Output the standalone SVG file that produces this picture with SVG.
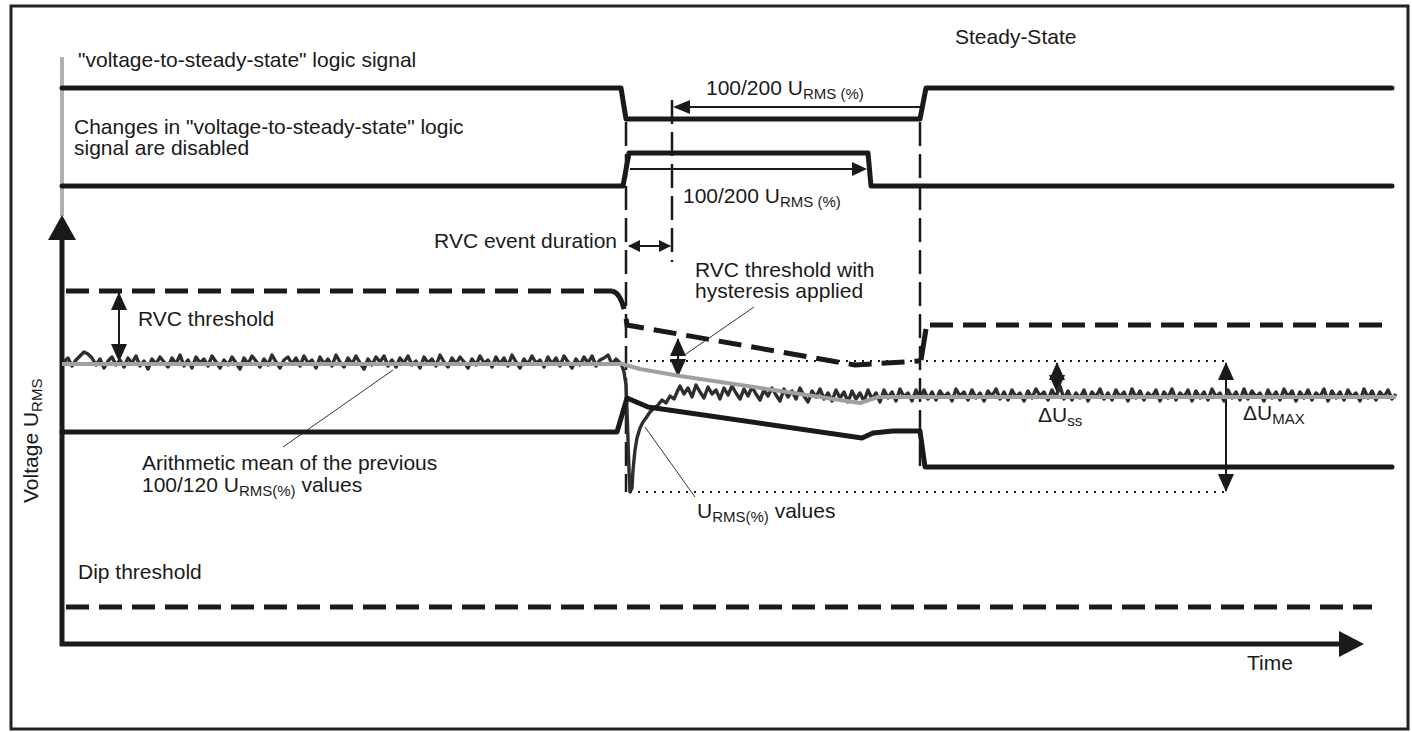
<svg xmlns="http://www.w3.org/2000/svg" width="1412" height="732" viewBox="0 0 1412 732">
<style>
text{font-family:"Liberation Sans",Arial,sans-serif;font-size:21px;fill:#1a1a1a}
.sub{font-size:15px}
.sig{fill:none;stroke:#1a1a1a;stroke-width:5;stroke-linejoin:round;stroke-linecap:round}
.dash{fill:none;stroke:#1a1a1a;stroke-width:5;stroke-dasharray:23 10}
.vdash{fill:none;stroke:#1a1a1a;stroke-width:2.5;stroke-dasharray:24 8}
.dot{fill:none;stroke:#1a1a1a;stroke-width:2;stroke-dasharray:2 6}
.thin{fill:none;stroke:#1a1a1a;stroke-width:2}
.lead{fill:none;stroke:#333;stroke-width:1}
.head{fill:#1a1a1a}
</style>
<defs>
<marker id="ah" viewBox="0 0 12 12" refX="11" refY="6" markerWidth="12" markerHeight="12" markerUnits="userSpaceOnUse" orient="auto-start-reverse"><path d="M0,0 L12,6 L0,12 Z" fill="#1a1a1a"/></marker>
<marker id="ahb" viewBox="0 0 18 16" refX="17" refY="8" markerWidth="18" markerHeight="16" markerUnits="userSpaceOnUse" orient="auto-start-reverse"><path d="M0,0 L18,8 L0,16 Z" fill="#1a1a1a"/></marker>
</defs>
<rect id="frame" x="11" y="6" width="1397" height="723" fill="#fff" stroke="#222" stroke-width="3"/>

<g id="axes">
<line x1="62" y1="57" x2="62" y2="216" stroke="#b0b0b0" stroke-width="4"/>
<line x1="62" y1="236" x2="62" y2="646" stroke="#1a1a1a" stroke-width="5"/>
<polygon class="head" points="62,215 48,240 76,240"/>
<line x1="60" y1="644" x2="1342" y2="644" stroke="#1a1a1a" stroke-width="5"/>
<polygon class="head" points="1364,644 1339,631 1339,657"/>
<text x="38" y="503" transform="rotate(-90 38 503)">Voltage U<tspan class="sub" dy="4">RMS</tspan></text>
<text x="1247" y="670">Time</text>
</g>

<g id="signal-steady">
<text x="78" y="67">"voltage-to-steady-state" logic signal</text>
<polyline class="sig" points="62,88 621,88 626,119 920,119 926,88 1392,88"/>
<text x="955" y="44">Steady-State</text>
</g>

<g id="signal-disabled">
<text x="74" y="134">Changes in "voltage-to-steady-state" logic</text>
<text x="74" y="155">signal are disabled</text>
<polyline class="sig" points="62,186 623,186 629,153 868,153 871,186 1392,186"/>
</g>

<g id="connectors">
<line class="vdash" x1="626" y1="122" x2="626" y2="492"/>
<line class="vdash" x1="672" y1="100" x2="672" y2="262"/>
<line class="vdash" x1="920" y1="122" x2="920" y2="474"/>
<line class="thin" x1="920" y1="107" x2="688" y2="107"/>
<polygon class="head" points="673,107 690,100 690,114"/>
<line class="thin" x1="630" y1="169" x2="854" y2="169"/>
<polygon class="head" points="867,169 852,162 852,176"/>
<line class="thin" x1="629" y1="246" x2="670" y2="246" marker-start="url(#ah)" marker-end="url(#ah)"/>
<line class="thin" x1="119" y1="293" x2="119" y2="361" stroke-width="2.5" marker-start="url(#ahb)" marker-end="url(#ahb)"/>
<line class="thin" x1="678" y1="339" x2="678" y2="376" stroke-width="2.5" marker-start="url(#ahb)" marker-end="url(#ahb)"/>
<line class="thin" x1="1057" y1="363" x2="1057" y2="392" stroke-width="2.5" marker-start="url(#ahb)" marker-end="url(#ahb)"/>
<line class="thin" x1="1226" y1="363" x2="1226" y2="491" stroke-width="2.5" marker-start="url(#ahb)" marker-end="url(#ahb)"/>
<line class="lead" x1="683" y1="356" x2="754" y2="307"/>
<line class="lead" x1="645" y1="427" x2="695" y2="497"/>
<line class="lead" x1="283" y1="447" x2="393" y2="370"/>
</g>

<g id="labels">
<text x="706" y="95">100/200 U<tspan class="sub" dy="4">RMS (%)</tspan></text>
<text x="683" y="203">100/200 U<tspan class="sub" dy="4">RMS (%)</tspan></text>
<text x="617" y="248" text-anchor="end">RVC event duration</text>
<text x="138" y="326">RVC threshold</text>
<text x="695" y="277">RVC threshold with</text>
<text x="695" y="298">hysteresis applied</text>
<text x="142" y="470">Arithmetic mean of the previous</text>
<text x="142" y="492">100/120 U<tspan class="sub" dy="4">RMS(%)</tspan><tspan dy="-4"> values</tspan></text>
<text x="697" y="518">U<tspan class="sub" dy="4">RMS(%)</tspan><tspan dy="-4"> values</tspan></text>
<text x="1038" y="422">ΔU<tspan class="sub" dy="4">ss</tspan></text>
<text x="1243" y="420">ΔU<tspan class="sub" dy="4">MAX</tspan></text>
<text x="78" y="579">Dip threshold</text>
</g>

<g id="thresholds">
<line class="dash" x1="66" y1="291" x2="612" y2="291"/>
<path class="dash" d="M612,291 Q623,293 627,325 L855,365 L920,361" stroke-dasharray="22 9"/>
<line x1="921" y1="360" x2="926" y2="329" stroke="#1a1a1a" stroke-width="5"/>
<line class="dash" x1="930" y1="325" x2="1385" y2="325"/>
<line class="dash" x1="66" y1="607" x2="1372" y2="607"/>
<line class="dot" x1="630" y1="361" x2="1228" y2="361"/>
<line class="dot" x1="630" y1="492" x2="1228" y2="492"/>
</g>

<g id="curves">
<polyline fill="none" stroke="#2e2e2e" stroke-width="3.4" stroke-linejoin="round" points="64,362 68,358 72,366 76,360 80,356 84,352 88,354 92,358 96,365 100,359 104,368 108,361 112,357 116,365 120,360 124,367 128,358 132,363 136,356 140,366 144,361 148,369 152,359 156,364 160,357 164,362 168,367 172,358 176,364 180,355 184,366 188,360 192,368 196,357 200,363 204,359 208,366 212,356 216,362 220,368 224,360 228,365 232,357 236,363 240,369 244,358 248,364 252,356 256,361 260,367 264,359 268,365 272,355 276,362 280,368 284,360 288,357 292,364 296,358 300,366 304,356 308,363 312,360 316,368 320,357 324,364 328,359 332,366 336,355 340,362 344,367 348,358 352,364 356,356 360,363 364,369 368,359 372,365 376,357 380,362 384,356 388,366 392,360 396,367 400,358 404,363 408,356 412,365 416,361 420,368 424,357 428,363 432,359 436,366 440,355 444,362 448,367 452,358 456,364 460,357 464,362 468,368 472,359 476,365 480,356 484,363 488,360 492,367 496,357 500,364 504,358 508,366 512,355 516,362 520,368 524,359 528,364 532,356 536,363 540,360 544,367 548,357 552,364 556,358 560,366 564,356 568,362 572,368 576,359 580,365 584,357 588,363 592,356 596,366 600,360 604,358 608,355 612,364 616,359 620,363 622,366 624,372 626,385 627,410 628,440 629,470 630,492 632,488 633,470 635,450 637,438 640,428 643,422 646,418 650,412 654,408 658,405 662,400 666,403 670,396 674,399 678,390 680,386 684,394 688,388 692,397 696,385 700,392 704,398 708,387 712,394 716,390 720,399 724,388 728,395 732,386 736,393 740,399 744,389 748,396 752,387 756,394 760,400 764,390 768,396 772,388 776,395 780,401 784,389 788,397 792,391 796,399 800,388 804,396 808,402 812,391 816,397 820,389 824,399 828,393 832,401 836,390 840,398 844,392 848,402 852,391 856,399 860,393 864,401 868,390 872,399 876,393 880,402 884,390 888,398 892,392 896,401 900,389 904,397 908,393 912,401 916,390 920,398 924,390 928,399 932,392 936,400 940,391 944,397 948,393 952,401 956,389 960,396 964,392 968,400 972,390 976,398 980,393 984,401 988,391 992,396 996,389 1000,399 1004,392 1008,400 1012,390 1016,397 1020,393 1024,401 1028,391 1032,398 1036,389 1040,396 1044,392 1048,400 1052,390 1056,397 1060,386 1064,399 1068,391 1072,400 1076,393 1080,398 1084,390 1088,401 1092,392 1096,397 1100,389 1104,399 1108,393 1112,400 1116,390 1120,397 1124,392 1128,401 1132,389 1136,398 1140,391 1144,400 1148,393 1152,397 1156,390 1160,401 1164,392 1168,398 1172,389 1176,400 1180,393 1184,397 1188,390 1192,401 1196,391 1200,398 1204,392 1208,400 1212,389 1216,397 1220,393 1224,401 1228,390 1232,398 1236,392 1240,400 1244,389 1248,399 1252,391 1256,397 1260,393 1264,401 1268,390 1272,398 1276,392 1280,400 1284,389 1288,397 1292,391 1296,401 1300,392 1304,398 1308,390 1312,400 1316,393 1320,397 1324,389 1328,401 1332,391 1336,398 1340,392 1344,400 1348,390 1352,397 1356,393 1360,401 1364,389 1368,398 1372,391 1376,400 1380,392 1384,397 1388,390 1392,399 1396,394"/>
<path d="M62,364 H622 L640,369 L680,376 L860,403 L878,397 H1396" fill="none" stroke="#a0a0a0" stroke-width="4" stroke-linejoin="round"/>
<path class="sig" d="M62,432 H617 L627,398 L648,407 L862,438 L873,433 L893,431 H920 L925,467 H1392"/>
</g>
</svg>
